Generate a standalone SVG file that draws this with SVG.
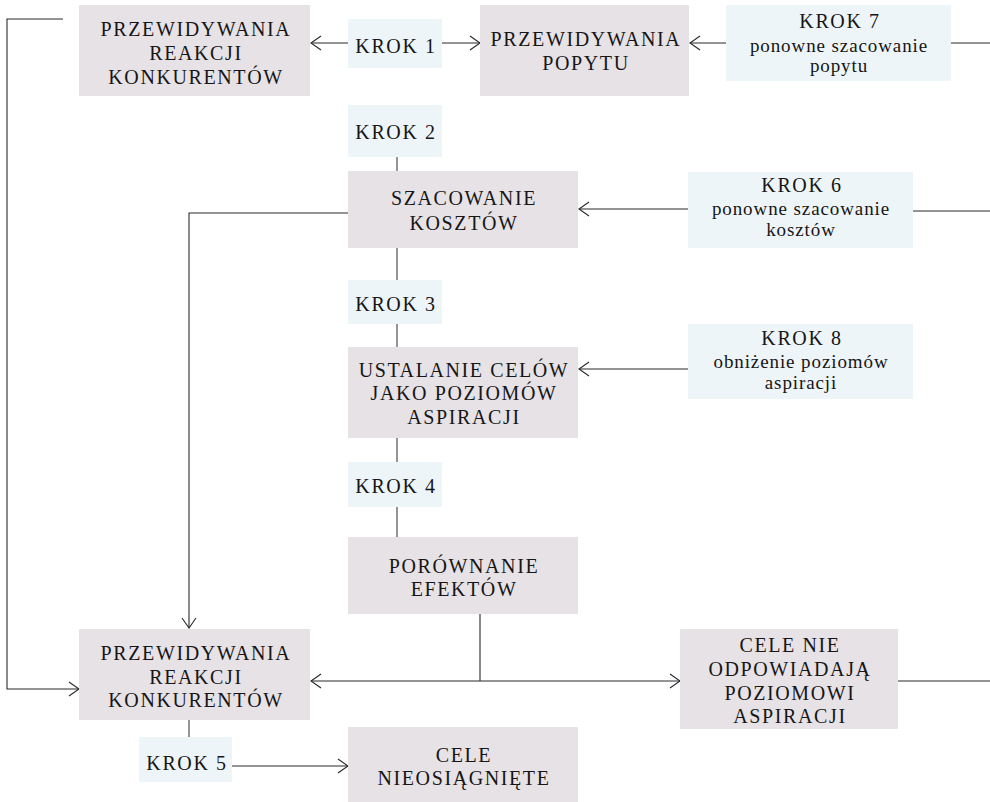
<svg xmlns="http://www.w3.org/2000/svg" width="990" height="802" viewBox="0 0 990 802">
<style>
.box{fill:#e7e2e6}
.step{fill:#eef5f9}
text{font-family:"Liberation Serif","Times New Roman",serif;fill:#161616;text-anchor:middle}
.cap{font-size:20px;letter-spacing:1.6px}
.low{font-size:19px;letter-spacing:0.9px}
.c{fill:none;stroke:#2a2a2a;stroke-width:1.1}
.g{fill:none;stroke:#7a7a7a;stroke-width:1.6}
</style>
<defs>
<marker id="ah" markerUnits="userSpaceOnUse" markerWidth="12" markerHeight="16" viewBox="0 0 12 16" refX="11" refY="8" orient="auto">
<path d="M1,1 L11,8 L1,15" fill="none" stroke="#2a2a2a" stroke-width="1.1"/>
</marker>
</defs>
<rect width="990" height="802" fill="#ffffff"/>

<g id="connectors">
<polyline class="c" points="63,19 7,19 7,689 79,689" marker-end="url(#ah)"/>
<line class="c" x1="348" y1="43" x2="311" y2="43" marker-end="url(#ah)"/>
<line class="c" x1="442" y1="43" x2="480" y2="43" marker-end="url(#ah)"/>
<line class="c" x1="726" y1="43" x2="690" y2="43" marker-end="url(#ah)"/>
<line class="c" x1="951" y1="43" x2="990" y2="43"/>
<line class="g" x1="397" y1="157" x2="397" y2="171"/>
<polyline class="c" points="348,213 189,213 189,628" marker-end="url(#ah)"/>
<line class="c" x1="688" y1="209" x2="579" y2="209" marker-end="url(#ah)"/>
<line class="c" x1="913" y1="211" x2="990" y2="211"/>
<line class="g" x1="397" y1="248" x2="397" y2="280"/>
<line class="c" x1="688" y1="369" x2="579" y2="369" marker-end="url(#ah)"/>
<line class="g" x1="397" y1="324" x2="397" y2="347"/>
<line class="g" x1="397" y1="438" x2="397" y2="462"/>
<line class="g" x1="397" y1="507" x2="397" y2="537"/>
<line class="c" x1="480" y1="614" x2="480" y2="681"/>
<line class="c" x1="480" y1="681" x2="311" y2="681" marker-end="url(#ah)"/>
<line class="c" x1="480" y1="681" x2="680" y2="681" marker-end="url(#ah)"/>
<line class="c" x1="898" y1="681" x2="990" y2="681"/>
<line class="g" x1="189" y1="720" x2="189" y2="737"/>
<line class="c" x1="232" y1="766" x2="348" y2="766" marker-end="url(#ah)"/>
</g>

<g id="n-reakcje-top">
<rect class="box" x="79" y="5" width="231" height="91"/>
<text class="cap" x="196" y="36">PRZEWIDYWANIA</text>
<text class="cap" x="196" y="60">REAKCJI</text>
<text class="cap" x="196" y="84">KONKURENTÓW</text>
</g>
<g id="n-krok1">
<rect class="step" x="348" y="19" width="94" height="49"/>
<text class="cap" x="396" y="53">KROK 1</text>
</g>
<g id="n-popyt">
<rect class="box" x="480" y="5" width="209" height="91"/>
<text class="cap" x="586" y="46">PRZEWIDYWANIA</text>
<text class="cap" x="586" y="70">POPYTU</text>
</g>
<g id="n-krok7">
<rect class="step" x="726" y="5" width="225" height="76"/>
<text class="cap" x="840" y="28">KROK 7</text>
<text class="low" x="839" y="52">ponowne szacowanie</text>
<text class="low" x="839" y="72">popytu</text>
</g>
<g id="n-krok2">
<rect class="step" x="348" y="105" width="94" height="52"/>
<text class="cap" x="396" y="139">KROK 2</text>
</g>
<g id="n-koszty">
<rect class="box" x="348" y="171" width="230" height="77"/>
<text class="cap" x="464" y="205">SZACOWANIE</text>
<text class="cap" x="464" y="230">KOSZTÓW</text>
</g>
<g id="n-krok6">
<rect class="step" x="688" y="172" width="225" height="76"/>
<text class="cap" x="802" y="192">KROK 6</text>
<text class="low" x="801" y="215">ponowne szacowanie</text>
<text class="low" x="801" y="236">kosztów</text>
</g>
<g id="n-krok3">
<rect class="step" x="348" y="280" width="94" height="44"/>
<text class="cap" x="396" y="311">KROK 3</text>
</g>
<g id="n-krok8">
<rect class="step" x="688" y="324" width="225" height="75"/>
<text class="cap" x="802" y="345">KROK 8</text>
<text class="low" x="801" y="368">obniżenie poziomów</text>
<text class="low" x="801" y="389">aspiracji</text>
</g>
<g id="n-ustalanie">
<rect class="box" x="348" y="347" width="230" height="91"/>
<text class="cap" x="464" y="377">USTALANIE CELÓW</text>
<text class="cap" x="464" y="400">JAKO POZIOMÓW</text>
<text class="cap" x="464" y="424">ASPIRACJI</text>
</g>
<g id="n-krok4">
<rect class="step" x="348" y="462" width="94" height="45"/>
<text class="cap" x="396" y="493">KROK 4</text>
</g>
<g id="n-porownanie">
<rect class="box" x="348" y="537" width="230" height="77"/>
<text class="cap" x="464" y="573">PORÓWNANIE</text>
<text class="cap" x="464" y="596">EFEKTÓW</text>
</g>
<g id="n-reakcje-bottom">
<rect class="box" x="79" y="629" width="231" height="91"/>
<text class="cap" x="196" y="660">PRZEWIDYWANIA</text>
<text class="cap" x="196" y="684">REAKCJI</text>
<text class="cap" x="196" y="707">KONKURENTÓW</text>
</g>
<g id="n-cele-nie">
<rect class="box" x="680" y="629" width="218" height="100"/>
<text class="cap" x="790" y="652">CELE NIE</text>
<text class="cap" x="790" y="676">ODPOWIADAJĄ</text>
<text class="cap" x="790" y="700">POZIOMOWI</text>
<text class="cap" x="790" y="723">ASPIRACJI</text>
</g>
<g id="n-krok5">
<rect class="step" x="139" y="737" width="93" height="45"/>
<text class="cap" x="187" y="770">KROK 5</text>
</g>
<g id="n-nieosiagniete">
<rect class="box" x="348" y="727" width="230" height="75"/>
<text class="cap" x="464" y="762">CELE</text>
<text class="cap" x="464" y="785">NIEOSIĄGNIĘTE</text>
</g>
</svg>
